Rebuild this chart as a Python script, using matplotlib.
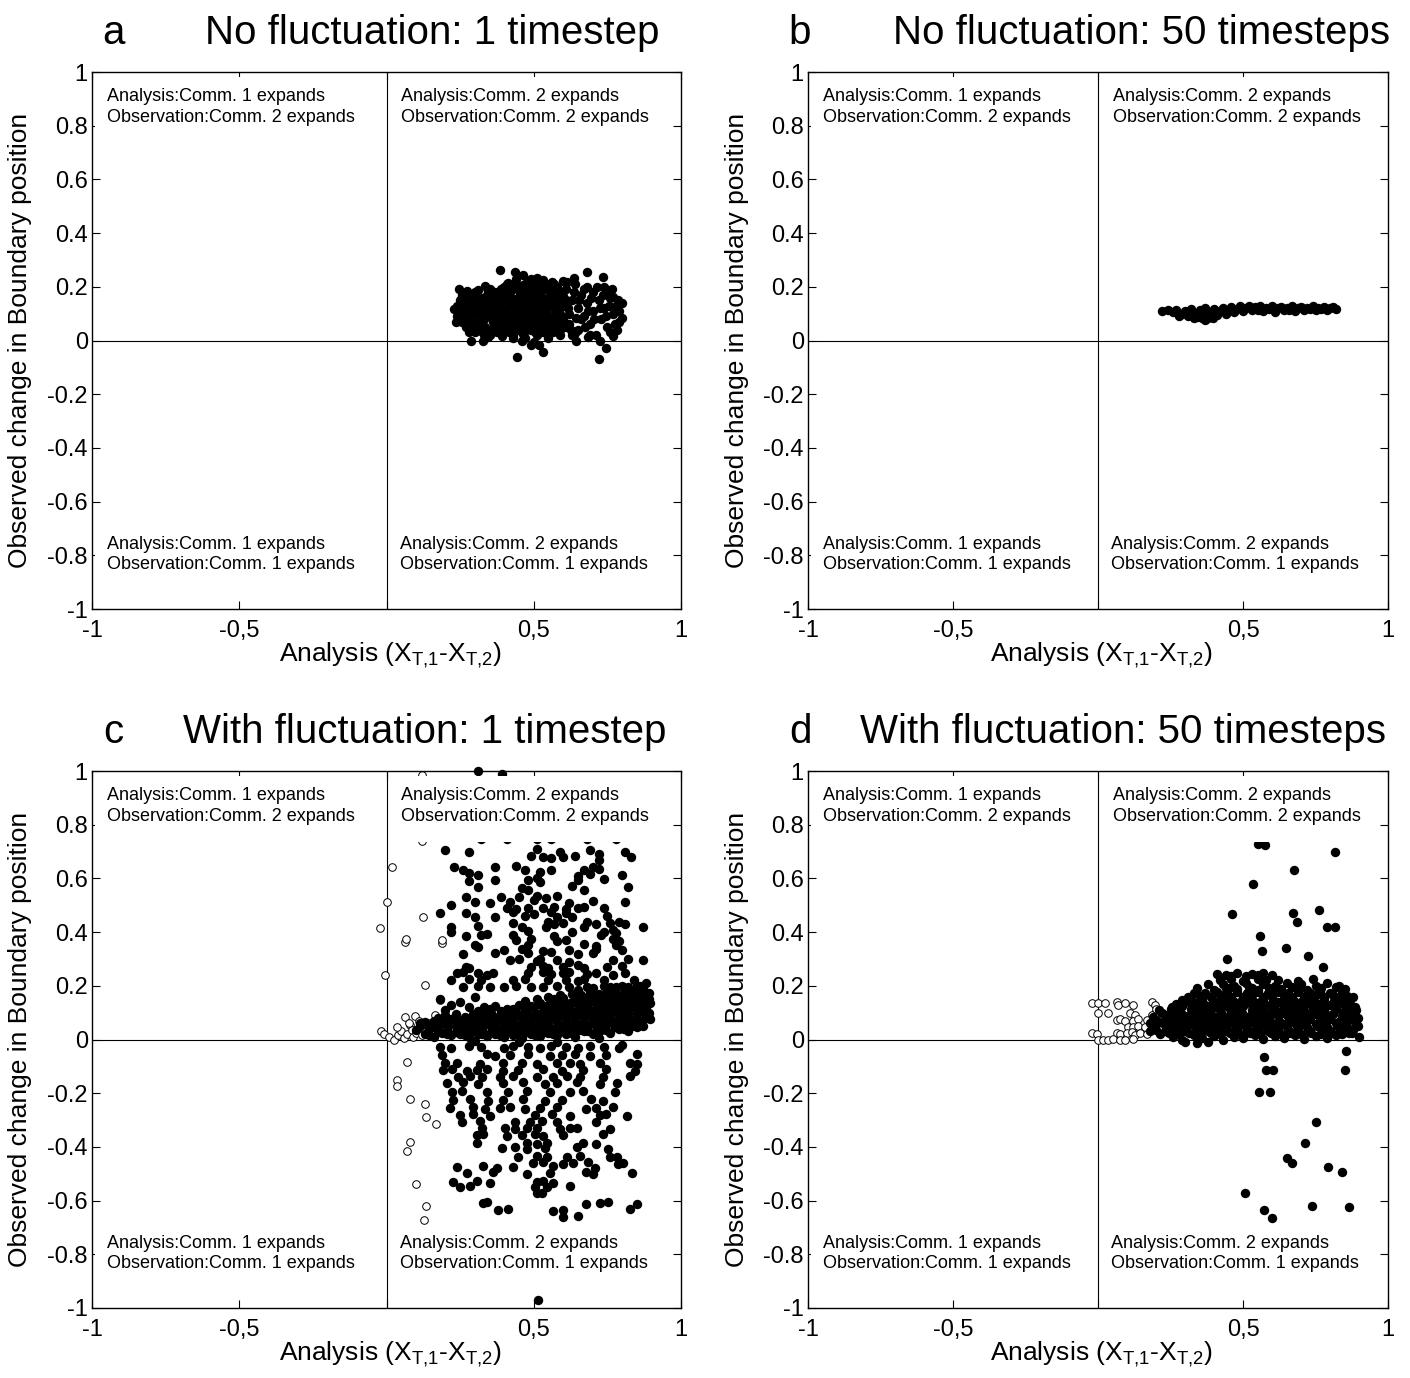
import matplotlib.pyplot as plt
from matplotlib.patches import Rectangle
import numpy as np

plt.rcParams['font.family'] = ['Liberation Sans', 'DejaVu Sans']

# ---- a: no fluctuation, 1 timestep (all filled points)
a_filled = np.array([
    (0.247, 0.19), (0.275, 0.186), (0.312, 0.188), (0.334, 0.203), (0.35, 0.19), (0.23, 0.116),
    (0.236, 0.07), (0.286, 0.0), (0.329, -0.001), (0.346, 0.012), (0.391, 0.017), (0.43, 0.008),
    (0.442, -0.06), (0.49, -0.017), (0.519, -0.017), (0.53, -0.044), (0.566, 0.033), (0.64, 0.027),
    (0.643, -0.001), (0.685, 0.012), (0.725, -0.001), (0.745, -0.029), (0.722, -0.069), (0.77, 0.015),
    (0.781, 0.04), (0.798, 0.082), (0.80, 0.141), (0.77, 0.163), (0.748, 0.188), (0.734, 0.238),
    (0.68, 0.256), (0.68, 0.20), (0.638, 0.231), (0.612, 0.219), (0.561, 0.219), (0.51, 0.232),
    (0.465, 0.244), (0.436, 0.256), (0.385, 0.262), (0.414, 0.213),
    (0.25, 0.15), (0.26, 0.12), (0.27, 0.09), (0.25, 0.10), (0.28, 0.16), (0.29, 0.13), (0.30, 0.10),
    (0.29, 0.06), (0.31, 0.15), (0.32, 0.12), (0.33, 0.08), (0.31, 0.04), (0.34, 0.17), (0.35, 0.14),
    (0.34, 0.11), (0.36, 0.07), (0.35, 0.04), (0.37, 0.18), (0.38, 0.13), (0.37, 0.10), (0.39, 0.05),
    (0.39, 0.16), (0.27, 0.05), (0.30, 0.18), (0.33, 0.02), (0.36, 0.11), (0.26, 0.17), (0.28, 0.03),
    (0.40, 0.20), (0.41, 0.15), (0.40, 0.10), (0.41, 0.05), (0.42, 0.18), (0.43, 0.12), (0.42, 0.07),
    (0.43, 0.02), (0.44, 0.21), (0.45, 0.16), (0.44, 0.09), (0.45, 0.04), (0.46, 0.19), (0.47, 0.13),
    (0.46, 0.06), (0.47, 0.01), (0.48, 0.22), (0.49, 0.17), (0.48, 0.10), (0.49, 0.04), (0.50, 0.20),
    (0.51, 0.14), (0.50, 0.08), (0.51, 0.02), (0.52, 0.18), (0.53, 0.11), (0.52, 0.05), (0.54, 0.21),
    (0.55, 0.15), (0.54, 0.08), (0.55, 0.03), (0.56, 0.18), (0.57, 0.12), (0.56, 0.06), (0.42, 0.13),
    (0.44, 0.15), (0.46, 0.11), (0.48, 0.15), (0.50, 0.11), (0.52, 0.09), (0.53, 0.16), (0.45, 0.19),
    (0.49, 0.07), (0.47, 0.21), (0.41, 0.21), (0.51, 0.19), (0.53, 0.03),
    (0.58, 0.20), (0.59, 0.16), (0.58, 0.09), (0.59, 0.04), (0.60, 0.13), (0.61, 0.19), (0.62, 0.10),
    (0.62, 0.06), (0.63, 0.15), (0.64, 0.21), (0.65, 0.12), (0.65, 0.04), (0.66, 0.17), (0.67, 0.09),
    (0.68, 0.14), (0.69, 0.06), (0.70, 0.18), (0.70, 0.11), (0.71, 0.02), (0.72, 0.15), (0.73, 0.08),
    (0.74, 0.20), (0.74, 0.12), (0.75, 0.05), (0.76, 0.16), (0.77, 0.10), (0.78, 0.13), (0.79, 0.07),
    (0.60, 0.22), (0.63, 0.02), (0.66, 0.08),
    (0.405, 0.175), (0.415, 0.125), (0.405, 0.075), (0.415, 0.03), (0.425, 0.205), (0.435, 0.155),
    (0.425, 0.095), (0.435, 0.045), (0.455, 0.175), (0.455, 0.125), (0.455, 0.075), (0.465, 0.025),
    (0.475, 0.165), (0.475, 0.085), (0.475, 0.04), (0.485, 0.195), (0.495, 0.135), (0.485, 0.055),
    (0.505, 0.165), (0.505, 0.095), (0.505, 0.03), (0.515, 0.215), (0.525, 0.135), (0.525, 0.07),
    (0.535, 0.19), (0.545, 0.125), (0.535, 0.045), (0.555, 0.17), (0.565, 0.09), (0.575, 0.155),
    (0.575, 0.05), (0.585, 0.125), (0.595, 0.18), (0.60, 0.08), (0.61, 0.15), (0.38, 0.08),
    (0.385, 0.14), (0.39, 0.19), (0.395, 0.03), (0.44, 0.23), (0.49, 0.23), (0.53, 0.225),
    (0.57, 0.21), (0.46, 0.0), (0.50, -0.005), (0.55, 0.01), (0.59, 0.02),
    (0.24, 0.13), (0.255, 0.07), (0.265, 0.14), (0.275, 0.11), (0.285, 0.08), (0.295, 0.17),
    (0.305, 0.12), (0.315, 0.07), (0.325, 0.16), (0.335, 0.135), (0.345, 0.09), (0.355, 0.16),
    (0.365, 0.13), (0.375, 0.05), (0.385, 0.11), (0.32, 0.035), (0.35, 0.02), (0.30, 0.03), (0.24, 0.09),
    (0.615, 0.12), (0.625, 0.04), (0.635, 0.18), (0.645, 0.085), (0.655, 0.15), (0.67, 0.19),
    (0.675, 0.05), (0.685, 0.11), (0.695, 0.16), (0.705, 0.08), (0.715, 0.20), (0.725, 0.12),
    (0.735, 0.17), (0.745, 0.09), (0.755, 0.13), (0.765, 0.19), (0.775, 0.06), (0.785, 0.15),
    (0.79, 0.11), (0.76, 0.03), (0.69, 0.02),
    (0.395, 0.12), (0.405, 0.045), (0.41, 0.10), (0.42, 0.16), (0.43, 0.19), (0.435, 0.07),
    (0.44, 0.125), (0.45, 0.10), (0.45, 0.055), (0.46, 0.145), (0.465, 0.205), (0.47, 0.10),
    (0.48, 0.12), (0.48, 0.18), (0.49, 0.10), (0.495, 0.16), (0.50, 0.055), (0.51, 0.12),
    (0.515, 0.17), (0.52, 0.03), (0.52, 0.205), (0.53, 0.09), (0.54, 0.15), (0.545, 0.10),
    (0.55, 0.06), (0.56, 0.135), (0.565, 0.20), (0.57, 0.07), (0.58, 0.175), (0.585, 0.07),
    (0.59, 0.10), (0.60, 0.165), (0.61, 0.05),
    (0.25, 0.125), (0.26, 0.08), (0.27, 0.155), (0.28, 0.135), (0.29, 0.10), (0.30, 0.145),
    (0.305, 0.065), (0.32, 0.10), (0.33, 0.14), (0.335, 0.05), (0.345, 0.185), (0.36, 0.09),
    (0.37, 0.155), (0.375, 0.03), (0.38, 0.18), (0.39, 0.08), (0.255, 0.17), (0.245, 0.11), (0.36, 0.18),
])

# ---- b: no fluctuation, 50 timesteps
b_filled = np.array([
    (0.22, 0.110), (0.24, 0.112), (0.26, 0.105), (0.27, 0.115), (0.29, 0.098), (0.30, 0.110),
    (0.31, 0.090), (0.32, 0.118), (0.33, 0.100), (0.34, 0.088), (0.35, 0.112), (0.36, 0.097),
    (0.37, 0.120), (0.38, 0.085), (0.39, 0.105), (0.40, 0.118), (0.41, 0.095), (0.42, 0.110),
    (0.43, 0.122), (0.44, 0.100), (0.45, 0.115), (0.46, 0.125), (0.47, 0.105), (0.48, 0.118),
    (0.49, 0.128), (0.50, 0.110), (0.51, 0.122), (0.52, 0.130), (0.53, 0.112), (0.54, 0.124),
    (0.55, 0.115), (0.56, 0.128), (0.57, 0.110), (0.58, 0.122), (0.59, 0.116), (0.60, 0.128),
    (0.61, 0.108), (0.62, 0.120), (0.63, 0.125), (0.64, 0.112), (0.65, 0.122), (0.66, 0.115),
    (0.67, 0.128), (0.68, 0.110), (0.69, 0.120), (0.70, 0.125), (0.71, 0.113), (0.72, 0.122),
    (0.73, 0.118), (0.74, 0.128), (0.75, 0.112), (0.76, 0.122), (0.77, 0.118), (0.78, 0.126),
    (0.79, 0.114), (0.80, 0.120), (0.81, 0.124), (0.82, 0.119), (0.28, 0.092), (0.36, 0.083),
    (0.33, 0.082), (0.369, 0.075), (0.398, 0.083),
])

# ---- c: with fluctuation, 1 timestep
c_upper = np.array([
    (0.32, 0.745), (0.41, 0.745), (0.51, 0.745), (0.56, 0.745), (0.68, 0.745), (0.78, 0.745),
    (0.20, 0.706), (0.28, 0.70), (0.51, 0.71), (0.59, 0.70), (0.69, 0.706), (0.72, 0.69), (0.81, 0.70),
    (0.83, 0.681), (0.49, 0.685), (0.53, 0.68), (0.56, 0.675), (0.60, 0.68), (0.64, 0.683), (0.72, 0.669),
    (0.23, 0.644), (0.26, 0.63), (0.28, 0.62), (0.37, 0.644), (0.44, 0.646), (0.70, 0.644),
    (0.47, 0.631), (0.52, 0.625), (0.56, 0.631), (0.67, 0.63), (0.72, 0.635),
    (0.31, 0.613), (0.80, 0.613), (0.65, 0.61), (0.69, 0.618),
    (0.28, 0.59), (0.37, 0.594), (0.48, 0.594), (0.51, 0.60), (0.52, 0.585), (0.65, 0.594), (0.74, 0.598),
    (0.31, 0.569), (0.46, 0.566), (0.63, 0.572), (0.82, 0.569), (0.48, 0.557), (0.67, 0.555),
    (0.27, 0.532), (0.39, 0.532), (0.45, 0.53), (0.58, 0.535), (0.54, 0.528), (0.51, 0.536), (0.50, 0.52),
    (0.30, 0.513), (0.42, 0.513), (0.62, 0.51), (0.70, 0.515), (0.81, 0.513), (0.35, 0.507), (0.22, 0.50),
    (0.41, 0.489), (0.44, 0.485), (0.48, 0.49), (0.53, 0.489), (0.57, 0.492), (0.61, 0.486), (0.65, 0.489),
    (0.67, 0.495), (0.74, 0.489),
    (0.18, 0.47), (0.27, 0.47), (0.43, 0.473), (0.50, 0.468), (0.61, 0.47), (0.56, 0.475),
    (0.30, 0.458), (0.37, 0.455), (0.47, 0.46), (0.58, 0.458), (0.63, 0.455), (0.75, 0.46),
    (0.43, 0.433), (0.55, 0.436), (0.57, 0.43), (0.60, 0.433), (0.68, 0.438), (0.71, 0.43), (0.76, 0.433),
    (0.79, 0.436), (0.81, 0.43),
    (0.22, 0.42), (0.31, 0.423), (0.46, 0.42), (0.54, 0.418), (0.67, 0.42), (0.87, 0.42),
    (0.22, 0.402), (0.48, 0.405), (0.63, 0.40), (0.74, 0.402), (0.77, 0.406), (0.78, 0.398),
    (0.32, 0.389), (0.27, 0.385), (0.34, 0.392), (0.43, 0.389), (0.57, 0.386), (0.73, 0.389),
    (0.44, 0.371), (0.49, 0.374), (0.58, 0.368), (0.61, 0.371), (0.77, 0.375), (0.79, 0.368),
    (0.30, 0.352), (0.31, 0.345), (0.48, 0.352), (0.67, 0.355), (0.71, 0.35), (0.78, 0.352),
    (0.40, 0.333), (0.46, 0.336), (0.53, 0.33), (0.62, 0.333), (0.71, 0.337), (0.80, 0.333),
    (0.37, 0.321), (0.26, 0.318), (0.48, 0.321), (0.56, 0.325), (0.65, 0.319), (0.70, 0.321),
    (0.42, 0.296), (0.45, 0.30), (0.51, 0.293), (0.52, 0.298), (0.58, 0.296), (0.62, 0.29), (0.77, 0.296),
    (0.82, 0.30), (0.87, 0.296),
    (0.27, 0.271), (0.28, 0.265), (0.49, 0.271), (0.53, 0.275), (0.55, 0.268), (0.60, 0.271), (0.65, 0.276),
    (0.67, 0.268), (0.75, 0.271), (0.80, 0.274),
    (0.24, 0.246), (0.26, 0.25), (0.31, 0.246), (0.34, 0.242), (0.36, 0.248), (0.48, 0.246), (0.53, 0.25),
    (0.56, 0.243), (0.60, 0.246), (0.62, 0.25), (0.68, 0.245), (0.71, 0.248), (0.77, 0.242), (0.81, 0.246),
    (0.22, 0.222), (0.28, 0.225), (0.32, 0.22), (0.43, 0.222), (0.47, 0.226), (0.55, 0.22), (0.61, 0.222),
    (0.65, 0.218), (0.67, 0.225), (0.74, 0.222), (0.84, 0.22),
    (0.26, 0.197), (0.31, 0.20), (0.35, 0.195), (0.40, 0.197), (0.44, 0.20), (0.49, 0.195), (0.53, 0.197),
    (0.58, 0.20), (0.62, 0.194), (0.68, 0.197), (0.74, 0.20), (0.78, 0.195), (0.82, 0.197), (0.86, 0.20),
    (0.312, 1.0), (0.391, 0.99),
])

c_band = np.array([
    (0.13, 0.02), (0.16, 0.01), (0.19, 0.025), (0.22, 0.015), (0.25, 0.02), (0.28, 0.008), (0.31, 0.02),
    (0.34, 0.012), (0.37, 0.022), (0.40, 0.01), (0.43, 0.018), (0.46, 0.005), (0.49, 0.02), (0.52, 0.012),
    (0.55, 0.025), (0.58, 0.015), (0.61, 0.022), (0.64, 0.01), (0.67, 0.03), (0.70, 0.02), (0.73, 0.035),
    (0.76, 0.025), (0.79, 0.04), (0.82, 0.03), (0.85, 0.045),
    (0.10, 0.035), (0.115, 0.05), (0.145, 0.04), (0.175, 0.045), (0.205, 0.035), (0.235, 0.05),
    (0.265, 0.04), (0.295, 0.045), (0.325, 0.035), (0.355, 0.05), (0.385, 0.04), (0.415, 0.045),
    (0.445, 0.035), (0.475, 0.05), (0.505, 0.04), (0.535, 0.045), (0.565, 0.04), (0.595, 0.05),
    (0.625, 0.045), (0.655, 0.055), (0.685, 0.05), (0.715, 0.06), (0.745, 0.055), (0.775, 0.065),
    (0.805, 0.06), (0.835, 0.07), (0.865, 0.065), (0.895, 0.075),
    (0.13, 0.065), (0.16, 0.07), (0.19, 0.06), (0.22, 0.075), (0.25, 0.065), (0.28, 0.07), (0.31, 0.06),
    (0.34, 0.075), (0.37, 0.065), (0.40, 0.07), (0.43, 0.065), (0.46, 0.075), (0.49, 0.07), (0.52, 0.08),
    (0.55, 0.07), (0.58, 0.08), (0.61, 0.075), (0.64, 0.085), (0.67, 0.08), (0.70, 0.09), (0.73, 0.085),
    (0.76, 0.095), (0.79, 0.09), (0.82, 0.10), (0.85, 0.095), (0.88, 0.105),
    (0.20, 0.09), (0.235, 0.095), (0.265, 0.085), (0.295, 0.095), (0.325, 0.09), (0.355, 0.10),
    (0.385, 0.09), (0.415, 0.10), (0.445, 0.095), (0.475, 0.105), (0.505, 0.10), (0.535, 0.11),
    (0.565, 0.10), (0.595, 0.11), (0.625, 0.105), (0.655, 0.115), (0.685, 0.11), (0.715, 0.12),
    (0.745, 0.115), (0.775, 0.125), (0.805, 0.12), (0.835, 0.13), (0.865, 0.125), (0.895, 0.135),
    (0.33, 0.12), (0.37, 0.125), (0.41, 0.115), (0.45, 0.13), (0.49, 0.125), (0.52, 0.135), (0.55, 0.13),
    (0.58, 0.14), (0.61, 0.135), (0.64, 0.145), (0.67, 0.14), (0.70, 0.15), (0.73, 0.145), (0.76, 0.155),
    (0.79, 0.15), (0.82, 0.16), (0.85, 0.155), (0.88, 0.165),
    (0.55, 0.16), (0.59, 0.165), (0.63, 0.17), (0.66, 0.165), (0.69, 0.175), (0.72, 0.17), (0.75, 0.18),
    (0.78, 0.175), (0.81, 0.185), (0.84, 0.18), (0.87, 0.19),
    (0.18, 0.15), (0.22, 0.13), (0.25, 0.14), (0.28, 0.12), (0.30, 0.16), (0.20, 0.11),
    (0.145, 0.015), (0.175, 0.03), (0.205, 0.02), (0.235, 0.028), (0.265, 0.018), (0.295, 0.03),
    (0.325, 0.02), (0.355, 0.028), (0.385, 0.015), (0.415, 0.03), (0.445, 0.02), (0.475, 0.028),
    (0.505, 0.015), (0.535, 0.03), (0.565, 0.02), (0.595, 0.03), (0.625, 0.025), (0.655, 0.035),
    (0.685, 0.03), (0.715, 0.04), (0.745, 0.035), (0.775, 0.045), (0.805, 0.04), (0.835, 0.05), (0.87, 0.05),
    (0.115, 0.06), (0.145, 0.055), (0.175, 0.06), (0.205, 0.055), (0.25, 0.05), (0.28, 0.055),
    (0.31, 0.05), (0.34, 0.058), (0.37, 0.05), (0.40, 0.055), (0.43, 0.05), (0.46, 0.06), (0.49, 0.055),
    (0.52, 0.062), (0.55, 0.055), (0.58, 0.065), (0.61, 0.06), (0.64, 0.07), (0.67, 0.065), (0.70, 0.075),
    (0.73, 0.07), (0.76, 0.08), (0.79, 0.075), (0.82, 0.085), (0.85, 0.08), (0.88, 0.09),
    (0.175, 0.08), (0.205, 0.075), (0.235, 0.08), (0.31, 0.08), (0.34, 0.09), (0.37, 0.08), (0.40, 0.088),
    (0.43, 0.08), (0.46, 0.09), (0.49, 0.085), (0.52, 0.095), (0.55, 0.088), (0.58, 0.095), (0.61, 0.09),
    (0.64, 0.10), (0.67, 0.095), (0.70, 0.105), (0.73, 0.10), (0.76, 0.11), (0.79, 0.105), (0.82, 0.115),
    (0.85, 0.11), (0.88, 0.12),
    (0.31, 0.105), (0.35, 0.115), (0.39, 0.105), (0.43, 0.115), (0.47, 0.115), (0.50, 0.12), (0.53, 0.12),
    (0.56, 0.115), (0.59, 0.125), (0.62, 0.12), (0.65, 0.13), (0.68, 0.125), (0.71, 0.135), (0.74, 0.13),
    (0.77, 0.14), (0.80, 0.135), (0.83, 0.145), (0.86, 0.14), (0.89, 0.15),
    (0.47, 0.145), (0.51, 0.15), (0.57, 0.15), (0.60, 0.155), (0.65, 0.16), (0.68, 0.155), (0.71, 0.165),
    (0.74, 0.16), (0.77, 0.17), (0.80, 0.165), (0.83, 0.175), (0.86, 0.17), (0.89, 0.175),
    (0.65, 0.185), (0.70, 0.19), (0.76, 0.195), (0.80, 0.20), (0.85, 0.20), (0.88, 0.21),
    (0.30, -0.005), (0.45, -0.01), (0.58, -0.008), (0.72, 0.005),
    (0.52, 0.025), (0.55, 0.045), (0.58, 0.03), (0.61, 0.045), (0.64, 0.04), (0.67, 0.05), (0.70, 0.06),
    (0.73, 0.055), (0.76, 0.07), (0.79, 0.06), (0.82, 0.075), (0.85, 0.065), (0.88, 0.08),
    (0.50, 0.08), (0.53, 0.10), (0.56, 0.085), (0.59, 0.10), (0.62, 0.09), (0.65, 0.10), (0.68, 0.095),
    (0.71, 0.11), (0.74, 0.10), (0.77, 0.115), (0.80, 0.10), (0.83, 0.12), (0.86, 0.11), (0.89, 0.10),
    (0.40, 0.025), (0.42, 0.06), (0.38, 0.075), (0.36, 0.03), (0.33, 0.06), (0.30, 0.08), (0.27, 0.055),
    (0.24, 0.07), (0.21, 0.05), (0.18, 0.065), (0.15, 0.055), (0.45, 0.05), (0.48, 0.09), (0.44, 0.10),
    (0.41, 0.085),
    (0.63, 0.14), (0.66, 0.15), (0.69, 0.14), (0.72, 0.155), (0.75, 0.14), (0.78, 0.16), (0.81, 0.145),
    (0.84, 0.165), (0.87, 0.15), (0.60, 0.13), (0.57, 0.12), (0.54, 0.115),
])

c_lower = np.array([
    (0.18, -0.027), (0.22, -0.03), (0.28, -0.025), (0.32, -0.027), (0.40, -0.03), (0.43, -0.024),
    (0.48, -0.027), (0.52, -0.03), (0.56, -0.025), (0.61, -0.027), (0.65, -0.03), (0.69, -0.024),
    (0.74, -0.027), (0.79, -0.03), (0.80, -0.02),
    (0.19, -0.058), (0.34, -0.055), (0.37, -0.06), (0.42, -0.058), (0.48, -0.055), (0.555, -0.06),
    (0.595, -0.058), (0.64, -0.055), (0.69, -0.06), (0.747, -0.058), (0.849, -0.055),
    (0.199, -0.089), (0.239, -0.086), (0.318, -0.092), (0.397, -0.089), (0.459, -0.086), (0.51, -0.092),
    (0.578, -0.089), (0.623, -0.086), (0.657, -0.092), (0.725, -0.089), (0.827, -0.086), (0.849, -0.092),
    (0.193, -0.114), (0.221, -0.11), (0.272, -0.117), (0.306, -0.114), (0.34, -0.11), (0.397, -0.117),
    (0.448, -0.114), (0.533, -0.11), (0.595, -0.117), (0.668, -0.114), (0.747, -0.11), (0.844, -0.117),
    (0.244, -0.138), (0.284, -0.135), (0.323, -0.141), (0.385, -0.138), (0.431, -0.135), (0.51, -0.141),
    (0.566, -0.138), (0.612, -0.135), (0.657, -0.141), (0.736, -0.138), (0.827, -0.135),
    (0.205, -0.163), (0.261, -0.16), (0.312, -0.166), (0.397, -0.163), (0.465, -0.16), (0.538, -0.166),
    (0.578, -0.163), (0.646, -0.16), (0.725, -0.166), (0.782, -0.163),
    (0.221, -0.194), (0.255, -0.19), (0.34, -0.197), (0.414, -0.194), (0.476, -0.19), (0.555, -0.197),
    (0.623, -0.194), (0.668, -0.19), (0.776, -0.197),
    (0.227, -0.225), (0.284, -0.222), (0.346, -0.228), (0.397, -0.225), (0.465, -0.222), (0.538, -0.228),
    (0.595, -0.225), (0.696, -0.222), (0.736, -0.228),
    (0.216, -0.256), (0.295, -0.253), (0.335, -0.259), (0.385, -0.256), (0.419, -0.253), (0.47, -0.259),
    (0.521, -0.256), (0.578, -0.253), (0.679, -0.259), (0.713, -0.256), (0.770, -0.253),
    (0.25, -0.281), (0.295, -0.278), (0.351, -0.284), (0.504, -0.281), (0.561, -0.278), (0.623, -0.284),
    (0.725, -0.281), (0.747, -0.278), (0.816, -0.284),
    (0.255, -0.306), (0.318, -0.303), (0.436, -0.309), (0.487, -0.306), (0.527, -0.303), (0.578, -0.309),
    (0.713, -0.306),
    (0.323, -0.331), (0.402, -0.328), (0.436, -0.334), (0.476, -0.331), (0.51, -0.328), (0.589, -0.334),
    (0.623, -0.331), (0.646, -0.328), (0.759, -0.334),
    (0.306, -0.356), (0.329, -0.353), (0.408, -0.359), (0.459, -0.356), (0.504, -0.353), (0.533, -0.359),
    (0.60, -0.356), (0.736, -0.353),
    (0.306, -0.387), (0.476, -0.384), (0.51, -0.39), (0.544, -0.387), (0.668, -0.384), (0.713, -0.39),
    (0.391, -0.405), (0.436, -0.402), (0.476, -0.408), (0.538, -0.405), (0.646, -0.402), (0.753, -0.408),
    (0.448, -0.436), (0.51, -0.433), (0.544, -0.439), (0.612, -0.436), (0.657, -0.433), (0.759, -0.439),
    (0.782, -0.436),
    (0.499, -0.461), (0.533, -0.458), (0.60, -0.464), (0.634, -0.461), (0.685, -0.458), (0.787, -0.464),
    (0.804, -0.461),
    (0.238, -0.474), (0.329, -0.471), (0.374, -0.477), (0.431, -0.474), (0.566, -0.471), (0.708, -0.477),
    (0.272, -0.498), (0.363, -0.495), (0.476, -0.501), (0.555, -0.498), (0.679, -0.495), (0.702, -0.501),
    (0.832, -0.498),
    (0.227, -0.53), (0.306, -0.527), (0.351, -0.533), (0.51, -0.53), (0.533, -0.527), (0.566, -0.533),
    (0.249, -0.548), (0.284, -0.545), (0.504, -0.551), (0.544, -0.548), (0.623, -0.545),
    (0.51, -0.573), (0.527, -0.57),
    (0.329, -0.61), (0.34, -0.607), (0.679, -0.613), (0.725, -0.61), (0.753, -0.607), (0.849, -0.613),
    (0.38, -0.635), (0.414, -0.632), (0.566, -0.638), (0.60, -0.635), (0.827, -0.632),
    (0.60, -0.66), (0.651, -0.657), (0.515, -0.97),
])

c_open = np.array([
    (0.12, 0.985), (0.12, 0.74), (0.02, 0.644), (0.0, 0.513), (0.125, 0.457), (-0.022, 0.414),
    (0.063, 0.364), (0.066, 0.375), (0.187, 0.36), (0.19, 0.37), (-0.005, 0.24), (0.13, 0.203),
    (0.18, 0.147), (0.063, 0.085), (0.097, 0.087), (0.165, 0.09), (0.08, 0.054), (0.148, 0.06),
    (-0.02, 0.03), (-0.01, 0.02), (0.01, 0.01), (0.025, 0.0), (0.04, 0.015), (0.05, 0.03), (0.06, 0.005),
    (0.07, 0.02), (0.085, 0.035), (0.09, 0.01), (0.10, 0.025), (0.11, 0.04), (0.12, 0.015), (0.13, 0.03),
    (0.14, 0.045), (0.15, 0.02), (0.16, 0.05), (0.17, 0.035), (0.18, 0.06), (0.19, 0.045), (0.195, 0.075),
    (0.035, 0.045), (0.075, 0.06), (0.11, 0.07),
    (0.069, -0.083), (0.034, -0.15), (0.037, -0.175), (0.08, -0.22), (0.13, -0.24), (0.134, -0.29),
    (0.168, -0.315), (0.08, -0.38), (0.069, -0.414), (0.10, -0.538), (0.134, -0.62), (0.128, -0.672),
])

# ---- d: with fluctuation, 50 timesteps
d_band = np.array([
    (0.26, 0.01), (0.29, 0.0), (0.33, 0.015), (0.36, 0.005), (0.40, 0.012), (0.43, 0.0), (0.47, 0.01),
    (0.50, 0.004), (0.54, 0.015), (0.57, 0.002), (0.61, 0.012), (0.64, 0.005), (0.68, 0.015),
    (0.71, 0.003), (0.75, 0.012), (0.79, 0.006), (0.82, 0.015),
    (0.20, 0.035), (0.23, 0.03), (0.27, 0.04), (0.30, 0.032), (0.34, 0.038), (0.38, 0.03), (0.41, 0.04),
    (0.45, 0.033), (0.48, 0.038), (0.52, 0.03), (0.55, 0.04), (0.59, 0.033), (0.62, 0.038), (0.66, 0.03),
    (0.69, 0.04), (0.73, 0.033), (0.77, 0.038), (0.80, 0.03), (0.84, 0.04), (0.88, 0.035),
    (0.18, 0.06), (0.21, 0.065), (0.25, 0.058), (0.28, 0.062), (0.32, 0.057), (0.35, 0.065), (0.39, 0.06),
    (0.43, 0.058), (0.46, 0.064), (0.50, 0.06), (0.53, 0.066), (0.57, 0.058), (0.60, 0.062), (0.64, 0.058),
    (0.67, 0.065), (0.71, 0.06), (0.75, 0.058), (0.78, 0.064), (0.82, 0.06), (0.86, 0.065), (0.89, 0.058),
    (0.19, 0.085), (0.23, 0.09), (0.26, 0.082), (0.30, 0.088), (0.33, 0.084), (0.37, 0.09), (0.41, 0.085),
    (0.44, 0.082), (0.48, 0.09), (0.51, 0.085), (0.55, 0.088), (0.58, 0.082), (0.62, 0.09), (0.66, 0.085),
    (0.69, 0.088), (0.73, 0.082), (0.76, 0.09), (0.80, 0.085), (0.84, 0.088), (0.87, 0.083),
    (0.21, 0.11), (0.25, 0.115), (0.28, 0.108), (0.32, 0.112), (0.35, 0.107), (0.39, 0.114), (0.42, 0.11),
    (0.46, 0.108), (0.49, 0.115), (0.53, 0.11), (0.57, 0.112), (0.60, 0.107), (0.64, 0.114), (0.67, 0.11),
    (0.71, 0.108), (0.74, 0.115), (0.78, 0.11), (0.82, 0.112), (0.85, 0.107), (0.89, 0.11),
    (0.27, 0.132), (0.30, 0.138), (0.34, 0.135), (0.37, 0.13), (0.41, 0.138), (0.44, 0.134), (0.48, 0.13),
    (0.51, 0.137), (0.55, 0.134), (0.58, 0.13), (0.62, 0.138), (0.65, 0.135), (0.69, 0.13), (0.73, 0.137),
    (0.76, 0.134), (0.80, 0.13), (0.83, 0.138), (0.87, 0.134),
    (0.31, 0.16), (0.35, 0.163), (0.39, 0.158), (0.42, 0.165), (0.46, 0.16), (0.50, 0.157), (0.53, 0.164),
    (0.57, 0.16), (0.60, 0.158), (0.64, 0.165), (0.67, 0.16), (0.71, 0.157), (0.75, 0.164), (0.78, 0.16),
    (0.82, 0.158), (0.86, 0.163),
    (0.34, 0.19), (0.40, 0.185), (0.44, 0.192), (0.48, 0.188), (0.52, 0.194), (0.55, 0.186), (0.59, 0.19),
    (0.63, 0.188), (0.67, 0.194), (0.72, 0.186), (0.77, 0.19), (0.82, 0.195), (0.85, 0.188),
    (0.42, 0.22), (0.46, 0.225), (0.50, 0.218), (0.55, 0.226), (0.58, 0.22), (0.62, 0.222), (0.69, 0.218),
    (0.74, 0.225), (0.41, 0.245), (0.44, 0.242), (0.48, 0.248), (0.53, 0.244), (0.57, 0.246), (0.60, 0.24),
    (0.30, -0.01), (0.34, -0.012), (0.38, -0.008), (0.90, 0.01), (0.18, 0.03),
    (0.215, 0.02), (0.245, 0.025), (0.28, 0.02), (0.315, 0.025), (0.35, 0.02), (0.39, 0.025), (0.42, 0.02),
    (0.455, 0.025), (0.49, 0.02), (0.525, 0.025), (0.56, 0.02), (0.595, 0.025), (0.63, 0.02), (0.665, 0.025),
    (0.70, 0.02), (0.735, 0.025), (0.77, 0.02), (0.805, 0.025), (0.84, 0.02), (0.875, 0.025),
    (0.195, 0.048), (0.235, 0.045), (0.265, 0.05), (0.30, 0.045), (0.335, 0.05), (0.37, 0.045),
    (0.405, 0.05), (0.44, 0.045), (0.475, 0.05), (0.51, 0.045), (0.545, 0.05), (0.58, 0.045),
    (0.615, 0.05), (0.65, 0.045), (0.685, 0.05), (0.72, 0.045), (0.755, 0.05), (0.79, 0.045),
    (0.825, 0.05), (0.86, 0.045), (0.895, 0.05),
    (0.20, 0.072), (0.24, 0.075), (0.27, 0.07), (0.31, 0.075), (0.345, 0.07), (0.38, 0.075), (0.415, 0.07),
    (0.45, 0.075), (0.485, 0.07), (0.52, 0.075), (0.555, 0.07), (0.59, 0.075), (0.625, 0.07), (0.66, 0.075),
    (0.695, 0.07), (0.73, 0.075), (0.765, 0.07), (0.80, 0.075), (0.835, 0.07), (0.875, 0.075),
    (0.22, 0.098), (0.25, 0.095), (0.285, 0.10), (0.32, 0.095), (0.355, 0.10), (0.39, 0.095), (0.425, 0.10),
    (0.46, 0.095), (0.495, 0.10), (0.53, 0.095), (0.565, 0.10), (0.60, 0.095), (0.635, 0.10), (0.67, 0.095),
    (0.705, 0.10), (0.74, 0.095), (0.775, 0.10), (0.81, 0.095), (0.845, 0.10), (0.88, 0.095),
    (0.255, 0.122), (0.29, 0.125), (0.325, 0.12), (0.36, 0.125), (0.395, 0.12), (0.43, 0.125), (0.465, 0.12),
    (0.50, 0.125), (0.535, 0.12), (0.57, 0.125), (0.605, 0.12), (0.64, 0.125), (0.675, 0.12), (0.71, 0.125),
    (0.745, 0.12), (0.78, 0.125), (0.815, 0.12), (0.85, 0.125), (0.885, 0.12),
    (0.29, 0.148), (0.325, 0.145), (0.36, 0.15), (0.395, 0.145), (0.43, 0.15), (0.465, 0.145), (0.50, 0.15),
    (0.535, 0.145), (0.57, 0.15), (0.605, 0.145), (0.64, 0.15), (0.675, 0.145), (0.71, 0.15), (0.745, 0.145),
    (0.78, 0.15), (0.815, 0.145), (0.85, 0.15),
    (0.33, 0.175), (0.37, 0.172), (0.41, 0.178), (0.445, 0.172), (0.48, 0.176), (0.515, 0.172), (0.55, 0.176),
    (0.585, 0.172), (0.62, 0.178), (0.655, 0.172), (0.69, 0.176), (0.73, 0.172), (0.765, 0.176), (0.80, 0.172),
    (0.84, 0.175),
    (0.38, 0.205), (0.43, 0.208), (0.47, 0.20), (0.51, 0.21), (0.57, 0.205), (0.61, 0.20), (0.65, 0.21),
    (0.70, 0.205), (0.79, 0.21), (0.83, 0.20),
    (0.225, 0.06), (0.26, 0.045), (0.29, 0.085), (0.31, 0.06), (0.325, 0.105), (0.34, 0.025), (0.36, 0.08),
    (0.375, 0.115), (0.395, 0.05), (0.40, 0.14), (0.42, 0.09), (0.435, 0.165), (0.44, 0.03), (0.455, 0.115),
    (0.47, 0.06), (0.49, 0.14), (0.50, 0.09), (0.515, 0.03), (0.52, 0.165), (0.54, 0.115), (0.545, 0.06),
    (0.56, 0.14), (0.575, 0.09), (0.585, 0.03), (0.595, 0.165), (0.61, 0.115), (0.62, 0.06), (0.635, 0.14),
    (0.65, 0.09), (0.655, 0.025), (0.66, 0.165), (0.68, 0.115), (0.695, 0.06), (0.70, 0.14), (0.72, 0.09),
    (0.725, 0.03), (0.735, 0.165), (0.75, 0.115), (0.77, 0.06), (0.775, 0.14), (0.79, 0.09), (0.795, 0.03),
    (0.81, 0.165), (0.82, 0.115), (0.835, 0.06), (0.845, 0.14), (0.86, 0.09), (0.865, 0.025), (0.875, 0.115),
    (0.88, 0.16), (0.895, 0.08), (0.45, 0.19), (0.53, 0.19), (0.61, 0.19), (0.69, 0.19), (0.75, 0.20),
    (0.46, 0.235), (0.51, 0.235), (0.55, 0.24),
])

d_outliers = np.array([
    (0.553, 0.728), (0.576, 0.724), (0.817, 0.70), (0.677, 0.631), (0.536, 0.579), (0.461, 0.467),
    (0.674, 0.471), (0.685, 0.439), (0.762, 0.483), (0.791, 0.418), (0.817, 0.418), (0.559, 0.386),
    (0.564, 0.331), (0.648, 0.342), (0.724, 0.31), (0.777, 0.269), (0.446, 0.301),
    (0.854, -0.042), (0.572, -0.067), (0.579, -0.114), (0.605, -0.114), (0.852, -0.112),
    (0.555, -0.194), (0.593, -0.194), (0.752, -0.306), (0.715, -0.387), (0.653, -0.443), (0.668, -0.459),
    (0.794, -0.474), (0.843, -0.495), (0.507, -0.571), (0.574, -0.635), (0.601, -0.666), (0.739, -0.62),
    (0.867, -0.625),
])

d_open = np.array([
    (-0.022, 0.135), (0.001, 0.135), (0.024, 0.135), (0.064, 0.14), (0.070, 0.13), (0.093, 0.135),
    (0.122, 0.13), (0.185, 0.14), (0.197, 0.13),
    (0.001, 0.097), (0.036, 0.097), (0.110, 0.10), (0.128, 0.09), (0.197, 0.097),
    (0.064, 0.072), (0.076, 0.075), (0.093, 0.07), (0.122, 0.068), (0.139, 0.075), (0.168, 0.072),
    (0.105, 0.048), (0.122, 0.045), (0.139, 0.05), (0.162, 0.048),
    (-0.022, 0.023), (-0.005, 0.02), (0.064, 0.025), (0.076, 0.02), (0.099, 0.023), (0.116, 0.028),
    (0.128, 0.018), (0.145, 0.025), (0.168, 0.02),
    (0.001, -0.002), (0.018, 0.0), (0.036, -0.003), (0.053, 0.002), (0.076, 0.0), (0.093, -0.002),
    (0.122, 0.003), (0.19, 0.06), (0.185, 0.09), (0.20, 0.115),
])

letters = ['a', 'b', 'c', 'd']
titles = ['No fluctuation: 1 timestep', 'No fluctuation: 50 timesteps',
          'With fluctuation: 1 timestep', 'With fluctuation: 50 timesteps']
quad_text = [
    ('Analysis:Comm. 1 expands', 'Observation:Comm. 2 expands'),
    ('Analysis:Comm. 2 expands', 'Observation:Comm. 2 expands'),
    ('Analysis:Comm. 1 expands', 'Observation:Comm. 1 expands'),
    ('Analysis:Comm. 2 expands', 'Observation:Comm. 1 expands'),
]
xticks = [-1, -0.5, 0, 0.5, 1]
xticklabels = ['-1', '-0,5', '', '0,5', '1']
yticks = [1, 0.8, 0.6, 0.4, 0.2, 0, -0.2, -0.4, -0.6, -0.8, -1]
yticklabels = ['1', '0.8', '0.6', '0.4', '0.2', '0', '-0.2', '-0.4', '-0.6', '-0.8', '-1']

W, H = 1410, 1378
fig = plt.figure(figsize=(W / 100, H / 100), dpi=100)

# pixel boxes of the four axes: left, top, right, bottom
boxes = [(92, 72, 681, 609), (808, 72, 1388, 609), (92, 771, 681, 1308), (808, 771, 1388, 1308)]
# title placement: letter centre x, title left x, baseline y
title_pos = [(113, 205, 44), (800, 893, 44), (113, 183, 743), (800, 860, 743)]

filled_sets = [[a_filled], [b_filled], [c_band, c_upper, c_lower], [d_band, d_outliers]]
open_sets = [[], [], [c_open], [d_open]]

for i in range(4):
    l, t, r, b = boxes[i]
    ax = fig.add_axes([l / W, 1 - b / H, (r - l) / W, (b - t) / H])
    ax.set_xlim(-1, 1)
    ax.set_ylim(-1, 1)
    ax.axhline(0, color='black', lw=0.8, zorder=1)
    ax.axvline(0, color='black', lw=0.8, zorder=1)

    for pts in open_sets[i]:
        ax.scatter(pts[:, 0], pts[:, 1], s=30, facecolors='white', edgecolors='black',
                   linewidths=0.7, zorder=2, clip_on=False)
    for pts in filled_sets[i]:
        ax.scatter(pts[:, 0], pts[:, 1], s=46, color='black', linewidths=0,
                   zorder=2.5, clip_on=False)

    # white panels behind the quadrant notes
    for x0, x1 in [(-0.99, -0.01), (0.01, 0.97)]:
        ax.add_patch(Rectangle((x0, 0.737), x1 - x0, 0.243, facecolor='white',
                               edgecolor='none', zorder=3))
        ax.add_patch(Rectangle((x0, -0.92), x1 - x0, 0.23, facecolor='white',
                               edgecolor='none', zorder=3))
    for (tx, ty), (l1, l2) in zip([(-0.95, 0.868), (0.05, 0.868), (-0.95, -0.797), (0.045, -0.797)],
                                  quad_text):
        ax.text(tx, ty + 0.039, l1, fontsize=13, va='center', ha='left', zorder=4)
        ax.text(tx, ty - 0.039, l2, fontsize=13, va='center', ha='left', zorder=4)

    ax.set_xticks(xticks)
    ax.set_xticklabels(xticklabels)
    ax.set_yticks(yticks)
    ax.set_yticklabels(yticklabels)
    ax.tick_params(direction='in', top=True, right=True, length=6, width=0.8,
                   labelsize=17)
    ax.tick_params(axis='x', pad=8)
    ax.tick_params(axis='y', pad=3)
    for sp in ax.spines.values():
        sp.set_linewidth(1.0)
        sp.set_zorder(5)

    ax.text(0.506, -0.097, r'Analysis (X$_{\mathregular{T{,}1}}$-X$_{\mathregular{T{,}2}}$)',
            transform=ax.transAxes, ha='center', va='baseline', fontsize=19)
    ax.text(-0.122, 0.5, 'Observed change in Boundary position', transform=ax.transAxes,
            rotation=90, ha='center', va='center', fontsize=19)

    lx, tx, by = title_pos[i]
    fig.text(lx / W, 1 - by / H, letters[i], ha='center', va='baseline', fontsize=29)
    fig.text(tx / W, 1 - by / H, titles[i], ha='left', va='baseline', fontsize=29)

fig.savefig('out.png', dpi=100)
